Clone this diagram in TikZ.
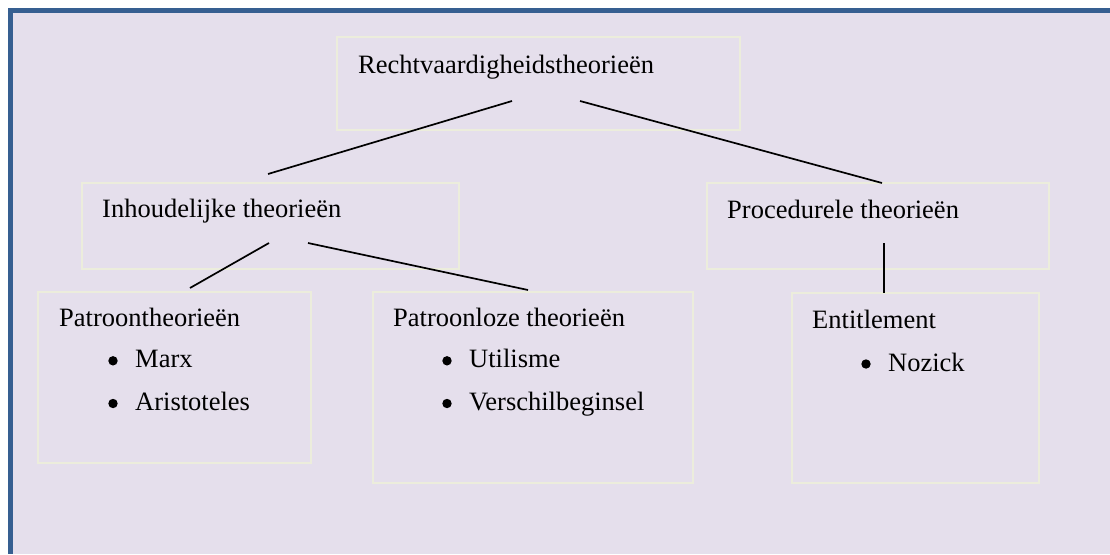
\documentclass[tikz,border=0pt]{standalone}
\usepackage{fontspec}
\setmainfont{Liberation Serif}
\definecolor{bgl}{HTML}{E5DFEC}
\definecolor{frm}{HTML}{365F91}
\definecolor{boxl}{HTML}{ECEDDC}
\begin{document}
\begin{tikzpicture}[x=1pt,y=-1pt,
  box/.style={draw=boxl,line width=1.6pt,fill=none},
  lbl/.style={anchor=base west,inner sep=0pt,font=\fontsize{26.5}{32}\selectfont},
  blt/.style={fill=black,circle,inner sep=0pt,minimum size=9.4pt},
  conn/.style={draw=black,line width=1.7pt}]
\useasboundingbox (0,0) rectangle (1110,554);
\fill[white] (0,0) rectangle (1110,554);
\fill[frm] (8,8) rectangle (1110,554);
\fill[bgl] (13.3,13.3) rectangle (1110,554);
% boxes
\draw[box] (337,37) rectangle (740,130);
\draw[box] (82,183) rectangle (459,269);
\draw[box] (707,183) rectangle (1049,269);
\draw[box] (38,292) rectangle (311,463);
\draw[box] (373,292) rectangle (693,483);
\draw[box] (792,293) rectangle (1039,483);
% texts
\node[lbl] (rt) at (358,73) {Rechtvaardigheidstheorieën};
\node[lbl] (it) at (102,217) {Inhoudelijke theorieën};
\node[lbl] (pt) at (727,218) {Procedurele theorieën};
\node[lbl] (pat) at (59,326) {Patroontheorieën};
\node[blt] (b1) at (113,360.8) {};
\node[lbl] (marx) at (135,367.3) {Marx};
\node[blt] (b2) at (113,403.5) {};
\node[lbl] (ari) at (135,410) {Aristoteles};
\node[lbl] (patl) at (393,326) {Patroonloze theorieën};
\node[blt] (b3) at (447,360.8) {};
\node[lbl] (uti) at (469,367.3) {Utilisme};
\node[blt] (b4) at (447,403.5) {};
\node[lbl] (ver) at (469,410) {Verschilbeginsel};
\node[lbl] (ent) at (812,328) {Entitlement};
\node[blt] (b5) at (866,364) {};
\node[lbl] (noz) at (888,371) {Nozick};
% connector end points
\coordinate (r1) at (512,101);
\coordinate (r2) at (580,101);
\coordinate (i0) at (268,174);
\coordinate (p0) at (882,183);
\coordinate (i1) at (269,243);
\coordinate (i2) at (308,243);
\coordinate (a0) at (190,288);
\coordinate (l0) at (528,290);
\coordinate (pp) at (884,243);
\coordinate (e0) at (884,293);
\draw[conn] (r1) -- (i0);
\draw[conn] (r2) -- (p0);
\draw[conn] (i1) -- (a0);
\draw[conn] (i2) -- (l0);
\draw[conn] (pp) -- (e0);
\end{tikzpicture}
\end{document}
